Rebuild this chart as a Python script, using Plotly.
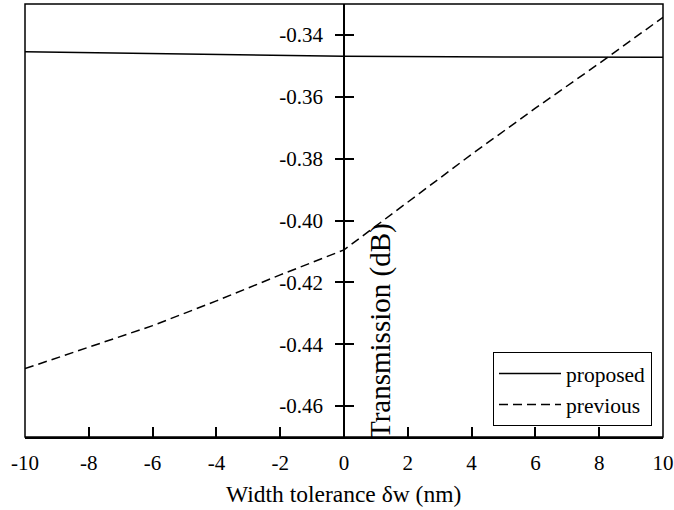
import plotly.graph_objects as go

# Data
x_proposed = [-10, -5, 0, 5, 10]
y_proposed = [-0.3454, -0.3462, -0.3469, -0.3471, -0.3472]

x_previous = [-10, -8, -6, -4, -2, 0, 2, 4, 6, 8, 10]
y_previous = [-0.4479, -0.4410, -0.4340, -0.4260, -0.4176, -0.4095,
              -0.3940, -0.3786, -0.3637, -0.3492, -0.3343]

x_ticks = [-10, -8, -6, -4, -2, 0, 2, 4, 6, 8, 10]
x_tick_text = ["-10", "-8", "-6", "-4", "-2", "0", "2", "4", "6", "8", "10"]
y_ticks = [-0.46, -0.44, -0.42, -0.40, -0.38, -0.36, -0.34]
y_tick_text = ["-0.46", "-0.44", "-0.42", "-0.40", "-0.38", "-0.36", "-0.34"]

FONT = "Liberation Serif, Times New Roman, serif"

L, R, T, B = 25, 11, 4, 73
W, H = 674, 510
PW, PH = W - L - R, H - T - B

fig = go.Figure()
fig.add_trace(go.Scatter(x=x_proposed, y=y_proposed, mode="lines", name="proposed",
                         line=dict(color="black", width=1.5)))
fig.add_trace(go.Scatter(x=x_previous, y=y_previous, mode="lines", name="previous",
                         line=dict(color="black", width=1.5, dash="9px,5px")))
# invisible trace for second y axis ticks
fig.add_trace(go.Scatter(x=[0], y=[-0.40], yaxis="y2", mode="markers",
                         marker=dict(opacity=0), showlegend=False, hoverinfo="skip"))

fig.update_layout(
    width=W, height=H,
    margin=dict(l=L, r=R, t=T, b=B, autoexpand=False),
    paper_bgcolor="white", plot_bgcolor="white",
    font=dict(family=FONT, size=21, color="black"),
    showlegend=True,
    legend=dict(x=(493 - L) / PW, y=(H - B - 352) / PH, xanchor="left", yanchor="top",
                bordercolor="black", borderwidth=1, bgcolor="white",
                font=dict(family=FONT, size=21.5), itemwidth=62,
                tracegroupgap=0),
    xaxis=dict(range=[-10, 10], tickvals=x_ticks, ticktext=x_tick_text,
               ticks="inside", ticklen=10, automargin=False,
               tickwidth=1.5, tickcolor="black", showline=True, linecolor="black",
               linewidth=1.5, showgrid=False, zeroline=False,
               ticklabelstandoff=6,
               tickfont=dict(family=FONT, size=21)),
    yaxis=dict(range=[-0.47, -0.33], tickvals=y_ticks, ticktext=y_tick_text,
               anchor="free", position=0.5, side="left", automargin=False,
               ticks="outside", ticklen=8, tickwidth=1.5, tickcolor="black",
               showline=True, linecolor="black", linewidth=1.5,
               showgrid=False, zeroline=False, ticklabelstandoff=8,
               tickfont=dict(family=FONT, size=21)),
    yaxis2=dict(range=[-0.47, -0.33], tickvals=y_ticks, overlaying="y",
                anchor="free", position=0.5, side="left", automargin=False,
                ticks="inside", ticklen=9, tickwidth=1.5, tickcolor="black",
                showticklabels=False, showline=False, showgrid=False, zeroline=False),
    shapes=[dict(type="rect", xref="paper", yref="paper", x0=0, x1=1, y0=0, y1=1,
                 line=dict(color="black", width=1.5), layer="above")],
    annotations=[
        dict(text="Transmission (dB)", textangle=-90, xref="paper", yref="paper",
             x=(380 - L) / PW, y=(H - B - 331) / PH, showarrow=False,
             xanchor="center", yanchor="middle",
             font=dict(family=FONT, size=29, color="black")),
        dict(text="Width tolerance δw (nm)", xref="paper", yref="paper",
             x=(343 - L) / PW, y=(H - B - 494) / PH, showarrow=False,
             xanchor="center", yanchor="middle",
             font=dict(family=FONT, size=23.5, color="black")),
    ],
)

fig.write_html("out.html",
               config={"displayModeBar": False},
               post_script="document.body.style.margin='0';document.body.style.padding='0';")
